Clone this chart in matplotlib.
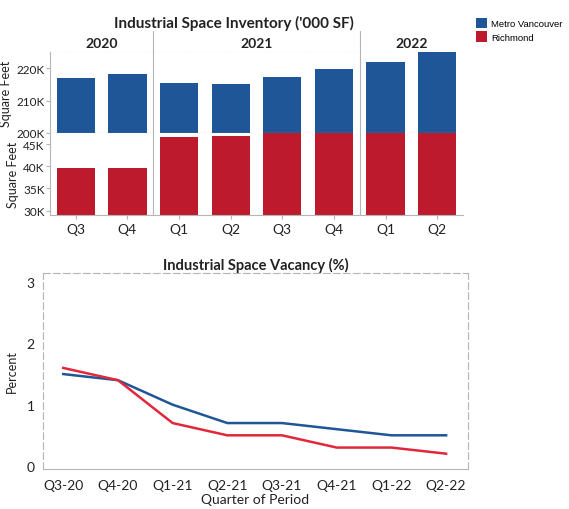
import matplotlib
matplotlib.use('Agg')
import matplotlib.pyplot as plt
import numpy as np

plt.rcParams['font.family'] = ['Lato', 'DejaVu Sans']

# Inventory ('000 SF) per quarter
quarters = ['Q3', 'Q4', 'Q1', 'Q2', 'Q3', 'Q4', 'Q1', 'Q2']
years = ['2020', '2021', '2022']
year_span = [(0, 1), (2, 5), (6, 7)]
metro_inv = [217.0, 218.2, 215.5, 215.0, 217.3, 219.7, 221.8, 225.0]
richmond_inv = [39.6, 39.6, 46.6, 46.8, 47.4, 47.5, 47.5, 47.5]

# Vacancy (%)
periods = ['Q3-20', 'Q4-20', 'Q1-21', 'Q2-21', 'Q3-21', 'Q4-21', 'Q1-22', 'Q2-22']
metro_vac = [1.5, 1.4, 1.0, 0.7, 0.7, 0.6, 0.5, 0.5]
richmond_vac = [1.6, 1.4, 0.7, 0.5, 0.5, 0.3, 0.3, 0.2]

blue = '#1f5697'
red = '#bd1a2d'
grid_c = '#b5b5b5'
txt = '#222222'

W, H = 569, 510
fig = plt.figure(figsize=(W / 100, H / 100), dpi=100)

def box(l, t, r, b):
    return [l / W, 1 - b / H, (r - l) / W, (b - t) / H]

x = np.arange(len(quarters))

ax_head = fig.add_axes(box(50, 32, 463, 53))
ax_up = fig.add_axes(box(50, 53, 463, 134))
ax_lo = fig.add_axes(box(50, 134, 463, 216), sharex=ax_up)

b1 = ax_up.bar(x, metro_inv, width=0.74, color=blue, label='Metro Vancouver')
b2 = ax_lo.bar(x, richmond_inv, width=0.74, color=red, label='Richmond')

ax_up.set_ylim(200, 225)
ax_lo.set_ylim(29, 47.5)
ax_up.set_xlim(-0.5, 7.5)
ax_head.set_xlim(-0.5, 7.5)
ax_head.set_ylim(0, 1)

ax_up.set_yticks([200, 210, 220])
ax_up.set_yticklabels(['200K', '210K', '220K'])
ax_lo.set_yticks([30, 35, 40, 45])
ax_lo.set_yticklabels(['30K', '35K', '40K', '45K'])
ax_lo.set_xticks(x)
ax_lo.set_xticklabels(quarters)
ax_up.tick_params(axis='x', bottom=False, labelbottom=False)

for ax in (ax_up, ax_lo):
    for s in ax.spines.values():
        s.set_visible(False)
    ax.spines['left'].set_visible(True)
    ax.spines['left'].set_color(grid_c)
    ax.spines['left'].set_linewidth(0.8)
    ax.tick_params(axis='y', length=3, color=grid_c, labelsize=8.5, labelcolor=txt, pad=1)
    ax.set_ylabel('Square Feet', fontsize=9, color=txt, labelpad=3)
    for d in (1.5, 5.5):
        ax.axvline(d, color=grid_c, lw=0.8)
ax_lo.spines['bottom'].set_visible(True)
ax_lo.spines['bottom'].set_color(grid_c)
ax_lo.tick_params(axis='x', length=3, color=grid_c, labelsize=10, labelcolor=txt, pad=3)
ax_up.axhline(200, color=grid_c, lw=0.8)

# year header strip
ax_head.axis('off')
ax_head.axhline(0, color=grid_c, lw=0.8, ls=(0, (3, 1)))
for d in (1.5, 5.5):
    ax_head.axvline(d, color=grid_c, lw=0.8)
for yr, (a, b) in zip(years, year_span):
    ax_head.text((a + b) / 2, 0.42, yr, ha='center', va='center',
                 fontsize=10, fontweight='bold', color=txt)

fig.text(234 / W, 1 - 23 / H, "Industrial Space Inventory ('000 SF)",
         ha='center', va='center', fontsize=11, fontweight='bold', color=txt)

fig.legend(handles=[b1, b2], labels=['Metro Vancouver', 'Richmond'],
           loc='upper left', bbox_to_anchor=(472 / W, 1 - 15 / H),
           frameon=False, handlelength=1.2, handleheight=1.3,
           handletextpad=0.4, labelspacing=0.35, borderaxespad=0,
           prop={'family': ['Liberation Sans', 'DejaVu Sans'], 'size': 6.8})

# Vacancy line chart
ax2 = fig.add_axes(box(43, 274, 468, 470))
xv = np.arange(len(periods))
ax2.plot(xv, metro_vac, color=blue, lw=1.8, label='Metro Vancouver')
ax2.plot(xv, richmond_vac, color='#e0283a', lw=1.8, label='Richmond')
ax2.set_xlim(-0.37, 7.4)
ax2.set_ylim(-0.05, 3.15)
ax2.set_yticks([0, 1, 2, 3])
ax2.set_xticks(xv)
ax2.set_xticklabels(periods)
ax2.tick_params(axis='both', length=0, labelsize=10, labelcolor=txt)
ax2.tick_params(axis='y', pad=6)
ax2.tick_params(axis='x', pad=7)
for side, s in ax2.spines.items():
    s.set_color(grid_c)
    s.set_linewidth(0.8)
    if side in ('top', 'right', 'left'):
        s.set_linestyle((0, (6, 3)))
ax2.set_ylabel('Percent', fontsize=9, color=txt, labelpad=6)
ax2.set_xlabel('Quarter of Period', fontsize=10, color=txt, labelpad=2)
ax2.set_title('Industrial Space Vacancy (%)', fontsize=10.5, fontweight='bold',
              color=txt, pad=3)

fig.savefig('out.png', dpi=100)
